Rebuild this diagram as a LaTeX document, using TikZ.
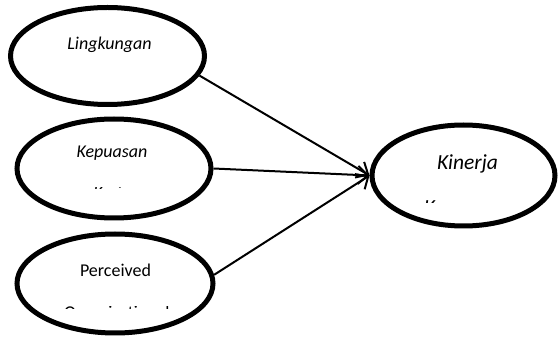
\documentclass[tikz,border=0pt]{standalone}
\usepackage{fontspec}
\setmainfont{Carlito}
\usetikzlibrary{arrows.meta,shapes.geometric}
\begin{document}
\begin{tikzpicture}[x=1pt,y=-1pt,
  var/.style={draw=black, line width=5pt, ellipse, inner sep=0pt},
  lbl/.style={inner sep=0pt, font=\fontsize{18}{21}\selectfont},
  biglbl/.style={inner sep=0pt, font=\fontsize{21.5}{25}\selectfont},
  conn/.style={draw=black, line width=2pt, -{Straight Barb[length=10pt,width=18pt]}}
]
\useasboundingbox (0,0) rectangle (560,347);
% ellipses
\node[var, minimum width=194pt, minimum height=97pt] (l) at (107.5,56) {};
\node[var, minimum width=194pt, minimum height=99pt] (c) at (114,168.5) {};
\node[var, minimum width=196pt, minimum height=99pt] (p) at (115,283.5) {};
\node[var, minimum width=183pt, minimum height=101pt] (k) at (463.5,175.5) {};
% labels
\node[lbl, anchor=base] (tl) at (109.5,50) {\itshape Lingkungan};
\node[lbl, anchor=base] (tc) at (112,158) {\itshape Kepuasan};
\node[lbl, anchor=base] (tp) at (115.5,277) {Perceived};
\node[biglbl, anchor=base] (tk) at (467.5,170) {\itshape Kinerja};
% clipped second lines
\begin{scope}
  \clip (80,187.5) rectangle (140,189);
  \node[lbl, anchor=base] (tc2) at (112,199) {\itshape Kerja};
\end{scope}
\begin{scope}
  \clip (415,200.5) rectangle (520,202.5);
  \node[biglbl, anchor=base] (tk2) at (467.5,214.5) {\itshape Karyawan};
\end{scope}
\begin{scope}
  \clip (55,307) rectangle (180,308.8);
  \node[lbl, anchor=base west] (tp2) at (64,318.5) {Organizational};
\end{scope}
% connectors
\draw[conn] (l.-12) -- (k.west);
\draw[conn] (c.east) -- (k.west);
\draw[conn] (p.5) -- (k.west);
\end{tikzpicture}
\end{document}
